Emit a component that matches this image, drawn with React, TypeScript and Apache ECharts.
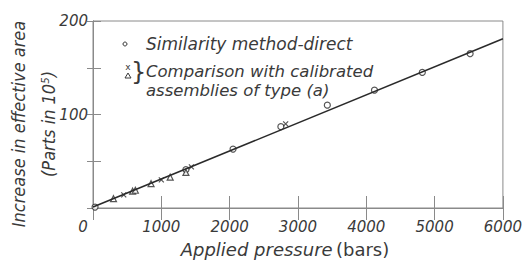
import React, { useEffect, useRef } from "react";
import * as echarts from "echarts";

const xTicks = [0, 1000, 2000, 3000, 4000, 5000, 6000];
const similarityDirect: [number, number][] = [
  [30, 1], [1360, 41], [2050, 63], [2750, 87], [3430, 110], [4120, 126], [4820, 145], [5520, 165],
];
const comparisonX: [number, number][] = [
  [450, 14], [1000, 30], [1440, 44], [2820, 90],
];
const comparisonTri: [number, number][] = [
  [300, 10], [580, 18], [620, 19], [850, 26], [1130, 33], [1360, 38],
];
const fitLine: [number, number][] = [
  [0, 1], [6000, 181],
];

const FONT = "'DejaVu Sans', sans-serif";
const CFONT = "'DejaVu Sans Condensed', 'DejaVu Sans', sans-serif";
const INK = "#3a3a3a";
const FRAME = "#8a8a8a";

export default function App() {
  const ref = useRef<HTMLDivElement>(null);
  useEffect(() => {
    if (!ref.current) return;
    const chart = echarts.init(ref.current, undefined, { renderer: "svg" });
    const crossPath = "path://M0,0L10,10M10,0L0,10";
    chart.setOption({
      animation: false,
      backgroundColor: "#fff",
      grid: { left: 93, right: 19, top: 21, bottom: 51, show: true, borderColor: FRAME, borderWidth: 1 },
      xAxis: [
        {
          type: "value", min: 0, max: 6000, interval: 1000,
          axisLine: { show: true, lineStyle: { color: FRAME } },
          axisTick: { show: true, inside: true, length: 12, lineStyle: { color: FRAME } },
          splitLine: { show: false },
          axisLabel: {
            color: INK, fontFamily: FONT, fontStyle: "italic", fontSize: 15, margin: 11,
            formatter: (v: number) => (v === 0 ? "0{s| }" : String(v)),
            rich: { s: { width: 20, fontSize: 15 } },
            customValues: xTicks,
          },
          name: "{i|Applied pressure} {n|(bars)}",
          nameLocation: "middle", nameGap: 32,
          nameTextStyle: {
            padding: [0, 26, 0, 0],
            rich: {
              i: { fontFamily: FONT, fontStyle: "italic", fontSize: 18, color: INK },
              n: { fontFamily: FONT, fontSize: 18, color: INK },
            },
          },
        },
        {
          type: "value", position: "top", min: 0, max: 6000, interval: 1000,
          axisLine: { show: true, lineStyle: { color: FRAME } },
          axisTick: { show: true, inside: true, length: 12, lineStyle: { color: FRAME } },
          axisLabel: { show: false }, splitLine: { show: false },
        },
      ],
      yAxis: [
        {
          type: "value", min: 0, max: 200, interval: 50,
          axisLine: { show: true, lineStyle: { color: FRAME } },
          axisTick: { show: true, inside: true, length: 8, lineStyle: { color: FRAME } },
          splitLine: { show: false },
          axisLabel: {
            color: INK, fontFamily: FONT, fontStyle: "italic", fontSize: 15, margin: 5,
            formatter: (v: number) => (v === 100 || v === 200 ? String(v) : ""),
          },
        },
        {
          type: "value", position: "right", min: 0, max: 200, interval: 50,
          axisLine: { show: true, lineStyle: { color: FRAME } },
          axisTick: { show: true, inside: true, length: 6, lineStyle: { color: FRAME } },
          axisLabel: { show: false }, splitLine: { show: false },
        },
      ],
      series: [
        {
          type: "line", data: fitLine, symbol: "none",
          lineStyle: { color: "#2a2a2a", width: 1.5 },
        },
        {
          type: "scatter", data: similarityDirect, symbol: "circle", symbolSize: 6,
          itemStyle: { color: "#fff", borderColor: "#2a2a2a", borderWidth: 1.2 },
        },
        {
          type: "scatter", data: comparisonTri, symbol: "triangle", symbolSize: 6,
          itemStyle: { color: "#fff", borderColor: "#2a2a2a", borderWidth: 1.2 },
        },
        {
          type: "scatter", data: comparisonX, symbol: crossPath, symbolSize: 5,
          itemStyle: { color: "transparent", borderColor: "#2a2a2a", borderWidth: 1.2 },
        },
      ],
      graphic: [
        {
          type: "text", x: 33, y: 124, rotation: Math.PI / 2,
          style: {
            text: "Increase in effective area\n(Parts in 10⁵)", fontFamily: CFONT, fontStyle: "italic",
            fontSize: 18, lineHeight: 30, fill: INK, align: "center", verticalAlign: "middle",
          },
        },
        { type: "circle", shape: { cx: 125, cy: 44, r: 2 }, style: { fill: "#fff", stroke: INK, lineWidth: 1 } },
        { type: "text", x: 146, y: 44, style: { text: "Similarity method-direct", fontFamily: FONT, fontStyle: "italic", fontSize: 17, fill: INK, verticalAlign: "middle" } },
        { type: "text", x: 128, y: 67, style: { text: "x", fontFamily: FONT, fontSize: 9, fill: INK, align: "center", verticalAlign: "middle" } },
        { type: "polygon", shape: { points: [[128, 73], [125, 78], [131, 78]] }, style: { fill: "#fff", stroke: INK, lineWidth: 1 } },
        { type: "text", x: 131, y: 72, style: { text: "}", fontFamily: FONT, fontSize: 24, fill: INK, verticalAlign: "middle" } },
        {
          type: "text", x: 146, y: 81,
          style: {
            text: "Comparison with calibrated\nassemblies of type (a)", fontFamily: FONT, fontStyle: "italic",
            fontSize: 16.5, lineHeight: 19, fill: INK, verticalAlign: "middle",
          },
        },
      ],
    });
    return () => chart.dispose();
  }, []);
  return <div ref={ref} style={{ width: 525, height: 263, position: "absolute", left: 0, top: 0 }} />;
}
